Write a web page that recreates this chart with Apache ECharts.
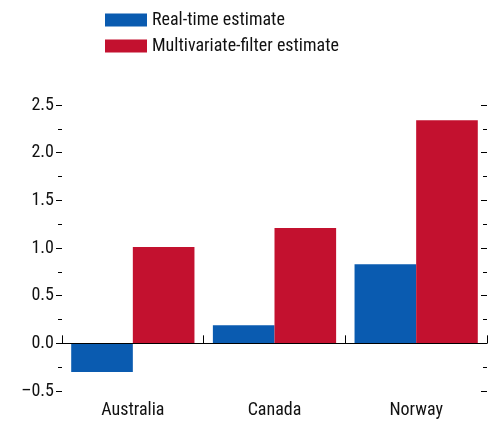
<!DOCTYPE html>
<html><head><meta charset="utf-8">
<script src="https://cdn.jsdelivr.net/npm/echarts@6/dist/echarts.min.js"></script>
<style>html,body{margin:0;padding:0;background:#fff}#c{width:489px;height:424px}</style>
</head><body><div id="c"></div>
<script>
const categories = ["Australia", "Canada", "Norway"];
const realTime = [-0.30, 0.19, 0.83];
const multiFilter = [1.01, 1.21, 2.34];
const seriesNames = ["Real-time estimate", "Multivariate-filter estimate"];
const F = "'Liberation Sans Narrow','Arial Narrow','Roboto Condensed','Liberation Sans',sans-serif";
const chart = echarts.init(document.getElementById('c'));
const yBase = {
  type: 'value', min: -0.5, max: 2.5, interval: 0.5,
  splitLine: {show: false}, axisLine: {show: false},
  minorTick: {show: true, splitNumber: 2, length: 4, lineStyle: {color: '#000'}},
  minorSplitLine: {show: false}
};
chart.setOption({
  animation: false,
  textStyle: {fontFamily: F},
  legend: {orient: 'vertical', left: 100, top: 6, itemWidth: 42, itemHeight: 13, itemGap: 8,
    textStyle: {fontFamily: F, fontSize: 18, color: '#111'}, icon: 'rect', data: seriesNames},
  grid: {left: 62, right: 2, top: 105, bottom: 33},
  xAxis: {type: 'category', data: categories,
    axisLine: {lineStyle: {color: '#000'}},
    axisTick: {show: true, inside: true, length: 8, lineStyle: {color: '#000'}},
    axisLabel: {fontFamily: F, fontSize: 18, color: '#111', margin: 10}},
  yAxis: [
    Object.assign({}, yBase, {position: 'left',
      axisTick: {show: true, length: 6, lineStyle: {color: '#000'}},
      axisLabel: {fontFamily: F, fontSize: 18, color: '#111', margin: 8,
        formatter: v => (v < 0 ? '\u2013' + Math.abs(v).toFixed(1) : v.toFixed(1))}}),
    Object.assign({}, yBase, {position: 'right',
      axisTick: {show: true, inside: true, length: 6, lineStyle: {color: '#000'}},
      axisLabel: {show: false}})
  ],
  series: [
    {name: seriesNames[0], type: 'bar', data: realTime, barGap: '0%', barCategoryGap: '13%',
      itemStyle: {color: '#0a5bb0'},
      markLine: {silent: true, symbol: 'none', label: {show: false},
        lineStyle: {color: '#000', type: 'solid', width: 1}, data: [{yAxis: 0}]}},
    {name: seriesNames[1], type: 'bar', data: multiFilter, itemStyle: {color: '#c3112f'}}
  ]
});
</script></body></html>
